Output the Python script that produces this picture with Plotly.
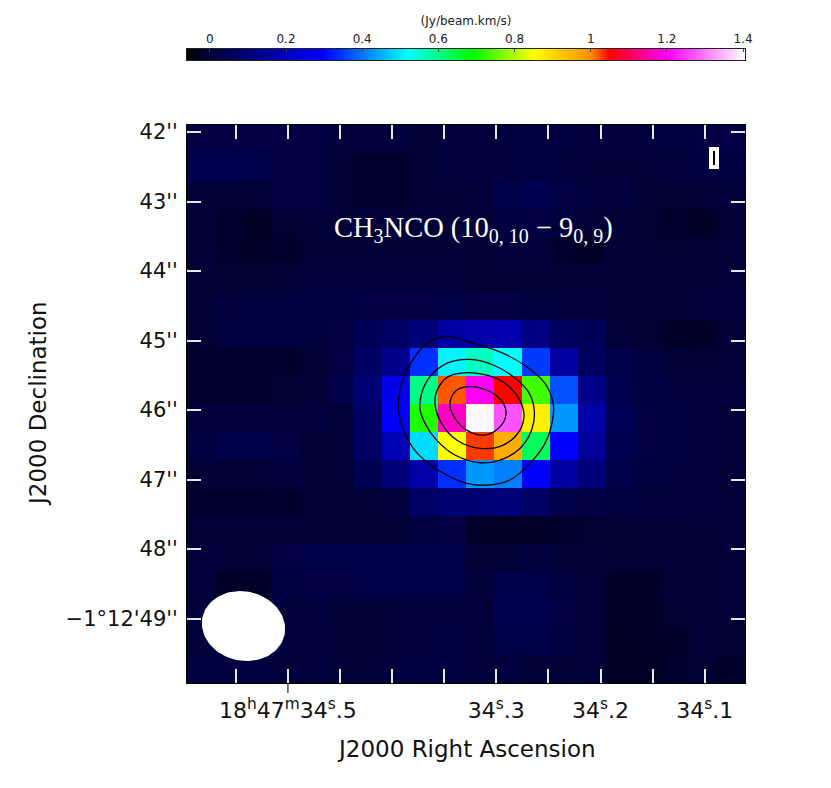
import numpy as np
import plotly.graph_objects as go

# integrated intensity map (Jy/beam.km/s), rows top to bottom (dec increasing), columns left to right (RA decreasing)
intensity = [
 [.02,.02,.02,.02,.02,.01,.01,.01,.0,.01, .01,.01,.015,.015,.01,.01,.01,.015,.02,.02],
 [.04,.04,.03,.02,.02,.0,-.01,-.01,.0,.01, .01,.01,.015,.01,.005,.005,.005,.01,.015,.015],
 [.005,.005,.005,.02,.02,.0,-.01,-.01,.005,.005, .0,.03,.04,.02,.01,.01,.0,-.005,.0,.01],
 [.0,-.01,-.02,-.005,.005,.005,.005,.005,.005,.005, .0,.015,.02,.01,.0,.0,-.005,-.01,-.015,.0],
 [.0,-.01,-.015,-.01,.0,.005,.005,.005,.005,.005, .0,.01,.01,-.01,-.015,.0,.0,-.005,.0,.005],
 [.0,-.005,-.005,.0,.01,.01,.01,.01,.01,.01, .0,.0,.0,.005,.0,.0,.005,.005,.005,.005],
 [.0,.01,.015,.015,.015,.015,.02,.02,.02,.025, .02,.02,.015,.01,.01,.005,.005,.005,.005,.01],
 [.0,.015,.015,.015,.015,.02,.05,.07,.1,.16, .17,.18,.11,.06,.05,.0,-.005,-.015,-.015,.005],
 [-.01,-.01,-.01,-.01,.0,.02,.07,.13,.34,.51, .56,.52,.35,.16,.06,.03,.015,.005,.0,.005],
 [-.01,-.01,-.01,-.005,.0,.03,.09,.27,.6,1.02, 1.2,1.05,.73,.37,.12,.04,.015,.01,.01,.01],
 [.01,.01,.01,.01,.01,.0,.07,.29,.71,1.17, 1.4,1.27,.87,.43,.17,.05,.02,.015,.01,.0],
 [.015,.03,.03,.02,.0,.0,.07,.19,.49,.85, 1.03,.96,.63,.3,.15,.04,.02,.015,.01,.0],
 [.0,.0,.0,.01,.0,.0,.04,.1,.17,.34, .43,.41,.3,.16,.1,.03,.015,.01,.01,.0],
 [-.01,-.01,-.01,-.01,.0,.0,.0,.01,.07,.09, .09,.1,.07,.03,.02,.015,.01,.01,.01,.0],
 [.0,.0,.0,.0,.0,.0,.0,.0,.015,.02, -.015,-.015,-.015,-.01,-.005,-.005,.0,.0,.005,.005],
 [.01,.005,.005,.02,.025,.025,.025,.025,.025,.025, .0,.0,.01,.0,.0,-.005,.0,.005,.005,.005],
 [.01,-.015,-.015,.015,.02,.02,.025,.025,.025,.025, .005,.03,.03,.015,.0,-.015,-.015,.0,.0,.0],
 [.01,.0,.0,.01,.01,.0,.0,.005,.01,.01, .005,.035,.035,.02,.0,-.015,-.015,-.005,.0,.0],
 [.01,.01,.01,.01,.01,.005,.0,.005,.01,.015, .005,.03,.03,.015,.0,-.02,-.015,-.015,.0,-.005],
 [.015,.015,.015,.01,.01,.0,.0,.01,.015,.015, .01,.01,.0,.0,.0,-.02,-.02,-.01,-.005,-.015],
]
ra_left = 34.5969
dec_top = 41.899
ra_step = -0.02678
dec_step = 0.4014

# continuum contours: RA seconds and Dec arcsec offsets
c1_ra = [34.3461,34.3669,34.3813,34.3909,34.3941,34.3893,34.3797,34.3653,34.3477,34.3285,34.3077,34.2869,34.2677,34.2533,34.2460,34.2454,34.2533,34.2709,34.2933,34.3157,34.3317,34.3461]
c1_dec = [44.945,45.041,45.305,45.616,45.952,46.288,46.552,46.767,46.935,47.055,47.079,47.007,46.767,46.480,46.144,45.904,45.616,45.376,45.185,45.065,44.993,44.945]
c2_ra = [34.3253,34.3477,34.3637,34.3717,34.3733,34.3685,34.3573,34.3397,34.3157,34.2965,34.2773,34.2661,34.2636,34.2693,34.2837,34.3029,34.3253]
c2_dec = [45.271,45.329,45.520,45.760,45.976,46.192,46.432,46.647,46.758,46.719,46.552,46.288,46.000,45.736,45.520,45.352,45.271]
c3_ra = [34.3269,34.3461,34.3567,34.3589,34.3525,34.3381,34.3157,34.2933,34.2773,34.2735,34.2805,34.2965,34.3125,34.3269]
c3_dec = [45.463,45.520,45.712,45.904,46.192,46.432,46.552,46.504,46.288,46.048,45.784,45.568,45.487,45.463]
c4_ra = [34.3269,34.3397,34.3445,34.3397,34.3285,34.3125,34.2981,34.2908,34.2933,34.3061,34.3269]
c4_dec = [45.664,45.736,45.928,46.120,46.288,46.360,46.264,46.072,45.904,45.736,45.664]

# beam: centre, semi-axes (arcsec) and tilt
beam_ra, beam_dec = 34.5427, 49.108
beam_a, beam_b, beam_tilt = 0.604, 0.498, np.radians(12.2)
s_per_arcsec = 0.0667

ra_major = [34.5,34.3,34.2,34.1]
ra_labels = ["18<sup>h</sup>47<sup>m</sup>34<sup>s</sup>.5","34<sup>s</sup>.3","34<sup>s</sup>.2","34<sup>s</sup>.1"]
ra_minor = [34.55,34.45,34.4,34.35,34.25,34.15]
dec_ticks = [42,43,44,45,46,47,48,49]
dec_labels = ["42''","43''","44''","45''","46''","47''","48''","\u22121\u00b012'49''"]
cb_ticks = [0,0.2,0.4,0.6,0.8,1,1.2,1.4]
cb_labels = ["0","0.2","0.4","0.6","0.8","1","1.2","1.4"]
zmin, zmax = -0.06, 1.405
scale_vals = [-0.06,0.0,0.30,0.52,0.69,0.85,1.0,1.05,1.205,1.405]
scale_cols = ["#000000","#000036","#0000ff","#00ffff","#00ff00","#ffff00","#ff9000","#ff0000","#ff00ff","#ffffff"]
colorscale = [[(v-zmin)/(zmax-zmin), c] for v,c in zip(scale_vals,scale_cols)]
cb_values = np.linspace(zmin, zmax, 400)

FONT = "DejaVu Sans"
W, H, L, R, T, B = 831, 788, 187, 86, 49, 105
plot_h = H - T - B
main_top = 558 / plot_h
fig = go.Figure()
fig.add_trace(go.Heatmap(
    z=intensity, x0=ra_left+ra_step/2, dx=ra_step, y0=dec_top+dec_step/2, dy=dec_step,
    zmin=zmin, zmax=zmax, colorscale=colorscale, zsmooth=False, hoverinfo="skip", showscale=False))
for xs, ys in [(c1_ra,c1_dec),(c2_ra,c2_dec),(c3_ra,c3_dec),(c4_ra,c4_dec)]:
    fig.add_trace(go.Scatter(x=xs,y=ys,mode="lines",line=dict(color="black",width=1.3,shape="spline",smoothing=1),
                             showlegend=False,hoverinfo="skip"))
t = np.linspace(0,2*np.pi,121)
ex = beam_a*np.cos(t)*np.cos(beam_tilt)-beam_b*np.sin(t)*np.sin(beam_tilt)
ey = beam_a*np.cos(t)*np.sin(beam_tilt)+beam_b*np.sin(t)*np.cos(beam_tilt)
fig.add_trace(go.Scatter(x=beam_ra-ex*s_per_arcsec,y=beam_dec+ey,mode="lines",fill="toself",
                         fillcolor="white",line=dict(color="white",width=0),showlegend=False,hoverinfo="skip"))
fig.add_trace(go.Heatmap(z=[cb_values], x=cb_values, y=[0], xaxis="x2", yaxis="y2",
    zmin=zmin, zmax=zmax, colorscale=colorscale, showscale=False, hoverinfo="skip"))

lab = "#111"
fig.update_layout(
    width=W,height=H,margin=dict(l=L,r=R,t=T,b=B,pad=0),paper_bgcolor="white",plot_bgcolor="white",showlegend=False,
    xaxis=dict(domain=[0,1],range=[ra_left,ra_left+20*ra_step],tickmode="array",tickvals=ra_major,ticktext=ra_labels,
        ticks="inside",ticklen=14,tickwidth=1.5,tickcolor="#e8e8e8",showgrid=False,zeroline=False,
        minor=dict(tickvals=ra_minor,ticks="inside",ticklen=14,tickwidth=1.5,tickcolor="#e8e8e8",showgrid=False),
        showline=True,linecolor="black",linewidth=1,mirror="ticks",ticklabelstandoff=8,
        tickfont=dict(family=FONT,size=22,color=lab)),
    yaxis=dict(domain=[0,main_top],range=[dec_top+20*dec_step,dec_top],tickmode="array",tickvals=dec_ticks,ticktext=dec_labels,
        ticks="inside",ticklen=14,tickwidth=1.5,tickcolor="#e8e8e8",showgrid=False,zeroline=False,
        showline=True,linecolor="black",linewidth=1,mirror="ticks",ticklabelstandoff=4,
        tickfont=dict(family=FONT,size=21,color=lab)),
    xaxis2=dict(domain=[0,1],anchor="y2",side="top",range=[zmin,zmax],tickmode="array",tickvals=cb_ticks,ticktext=cb_labels,
        ticks="inside",ticklen=3,tickcolor="#444",showgrid=False,zeroline=False,showline=True,linecolor="#222",linewidth=1,
        mirror=True,tickfont=dict(family=FONT,size=12,color="#222"),
        title=dict(text="(Jy/beam.km/s)",font=dict(family=FONT,size=12,color="#222"),standoff=4)),
    yaxis2=dict(domain=[(683-60)/plot_h,1],anchor="x2",showticklabels=False,ticks="",showgrid=False,zeroline=False,
        showline=True,linecolor="#222",linewidth=1,mirror=True),
    annotations=[
        dict(text="CH<sub>3</sub>NCO (10<sub>0, 10</sub> \u2212 9<sub>0, 9</sub>)",
             xref="x domain",yref="y domain",x=(473.5-187)/558,y=(683-229)/558,xanchor="center",yanchor="middle",showarrow=False,
             font=dict(family="Liberation Serif",size=28.5,color="white")),
        dict(text="J2000 Right Ascension",xref="x domain",yref="y domain",x=(466-187)/558,y=(683-749)/558,
             xanchor="center",yanchor="middle",showarrow=False,font=dict(family=FONT,size=23,color=lab)),
        dict(text="J2000 Declination",xref="x domain",yref="y domain",x=(38-187)/558,y=(683-404)/558,
             xanchor="center",yanchor="middle",showarrow=False,textangle=-90,font=dict(family=FONT,size=23,color=lab)),
    ],
    shapes=[
        dict(type="line",xref="x",yref="y domain",x0=34.5,x1=34.5,y0=0,y1=-10/558,line=dict(color="black",width=1)),
        dict(type="rect",xref="x domain",yref="y domain",x0=(709-187)/558,x1=(719-187)/558,y0=(683-147)/558,y1=(683-169)/558,
             fillcolor="white",line=dict(width=0)),
        dict(type="line",xref="x domain",yref="y domain",x0=(714-187)/558,x1=(714-187)/558,y0=(683-151)/558,y1=(683-165)/558,
             line=dict(color="black",width=2)),
    ])
fig.write_html("out.html",config={"displayModeBar":False},post_script="document.body.style.margin='0';")
